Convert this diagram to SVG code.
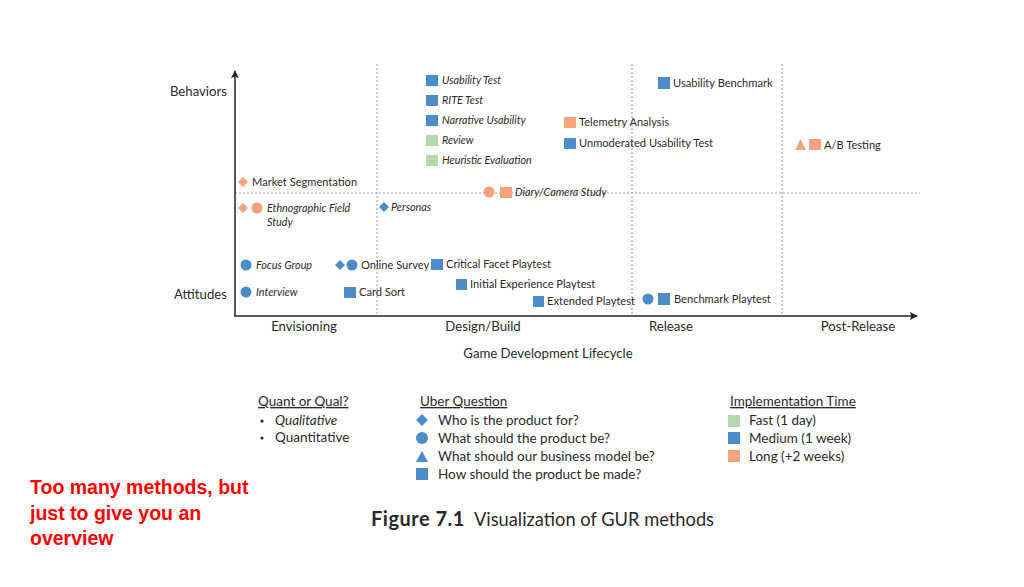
<svg xmlns="http://www.w3.org/2000/svg" width="1024" height="587" viewBox="0 0 1024 587">
<defs>
<style>
text{font-family:Lato,"Open Sans","Liberation Sans",sans-serif;fill:#2a2a2a}
.it{font-size:10.8px;font-style:italic}
.lb{font-size:11.1px}
.ax{font-size:13.2px}
.lg{font-size:13.5px}
.blue{fill:#4a8cc8}
.org{fill:#f6a27c}
.grn{fill:#b6d9ac}
.dot{stroke:#9a9a9a;stroke-width:1;stroke-dasharray:2,2;fill:none}
.red{font-family:"Liberation Sans",Arial,sans-serif;font-weight:bold;font-size:19.5px;fill:#ff0000}
</style>
<marker id="arr" viewBox="0 0 10 10" refX="9" refY="5" markerWidth="8" markerHeight="8" markerUnits="userSpaceOnUse" orient="auto"><path d="M0,0 L10,5 L0,10 L2,5 z" fill="#222"/></marker>
</defs>
<rect width="1024" height="587" fill="#fff"/>
<g id="grid">
<line class="dot" x1="377" y1="64" x2="377" y2="315"/>
<line class="dot" x1="632" y1="64" x2="632" y2="315"/>
<line class="dot" x1="782" y1="64" x2="782" y2="315"/>
<line class="dot" x1="235" y1="193" x2="920" y2="193"/>
</g>
<g id="connectors">
<line x1="235" y1="316" x2="235" y2="71" stroke="#222" stroke-width="1.5" marker-end="url(#arr)"/>
<line x1="234" y1="316" x2="917" y2="316" stroke="#222" stroke-width="1.5" marker-end="url(#arr)"/>
</g>
<g id="axis-labels">
<text class="ax" x="227" y="96" text-anchor="end">Behaviors</text>
<text class="ax" x="227" y="299" text-anchor="end">Attitudes</text>
<text class="ax" x="304" y="331" text-anchor="middle">Envisioning</text>
<text class="ax" x="483" y="331" text-anchor="middle">Design/Build</text>
<text class="ax" x="671" y="331" text-anchor="middle">Release</text>
<text class="ax" x="858" y="331" text-anchor="middle">Post-Release</text>
<text class="ax" x="548" y="358" text-anchor="middle">Game Development Lifecycle</text>
</g>
<g id="usability-test"><rect class="blue" x="426" y="75" width="12" height="11"/><text class="it" x="442" y="84">Usability Test</text></g>
<g id="rite-test"><rect class="blue" x="426" y="95" width="12" height="11"/><text class="it" x="442" y="104">RITE Test</text></g>
<g id="narrative-usability"><rect class="blue" x="426" y="115" width="12" height="11"/><text class="it" x="442" y="124">Narrative Usability</text></g>
<g id="review"><rect class="grn" x="426" y="135" width="12" height="11"/><text class="it" x="442" y="144">Review</text></g>
<g id="heuristic-evaluation"><rect class="grn" x="426" y="155" width="12" height="11"/><text class="it" x="442" y="164">Heuristic Evaluation</text></g>
<g id="telemetry-analysis"><rect class="org" x="564" y="117" width="12" height="11"/><text class="lb" x="579" y="126">Telemetry Analysis</text></g>
<g id="unmoderated-usability-test"><rect class="blue" x="564" y="138" width="12" height="11"/><text class="lb" x="579" y="147">Unmoderated Usability Test</text></g>
<g id="usability-benchmark"><rect class="blue" x="658" y="77" width="12" height="12"/><text class="lb" x="673" y="87">Usability Benchmark</text></g>
<g id="ab-testing"><polygon class="org" points="795,150 800.5,139 806,150"/><rect class="org" x="809" y="139" width="12" height="11"/><text class="lb" x="824" y="149">A/B Testing</text></g>
<g id="market-segmentation"><polygon class="org" points="243,177 248,182 243,187 238,182"/><text class="lb" x="252" y="186">Market Segmentation</text></g>
<g id="ethnographic-field-study"><polygon class="org" points="243,203 248,208 243,213 238,208"/><circle class="org" cx="257" cy="208" r="5.5"/><text class="it" x="267" y="212">Ethnographic Field</text><text class="it" x="267" y="226">Study</text></g>
<g id="personas"><polygon class="blue" points="384,202 389,207 384,212 379,207"/><text class="it" x="391" y="211">Personas</text></g>
<g id="diary-camera-study"><circle class="org" cx="489" cy="192" r="5.5"/><rect class="org" x="500" y="187" width="12" height="11"/><text class="it" x="515" y="196">Diary/Camera Study</text></g>
<g id="focus-group"><circle class="blue" cx="246" cy="265" r="5.5"/><text class="it" x="256" y="269">Focus Group</text></g>
<g id="online-survey"><polygon class="blue" points="340,260 345,265 340,270 335,265"/><circle class="blue" cx="352" cy="265" r="5.5"/><text class="lb" x="361" y="269">Online Survey</text></g>
<g id="critical-facet-playtest"><rect class="blue" x="431" y="259" width="12" height="11"/><text class="lb" x="446" y="268">Critical Facet Playtest</text></g>
<g id="interview"><circle class="blue" cx="246" cy="292" r="5.5"/><text class="it" x="256" y="296">Interview</text></g>
<g id="card-sort"><rect class="blue" x="344" y="287" width="12" height="11"/><text class="lb" x="359" y="296">Card Sort</text></g>
<g id="initial-experience-playtest"><rect class="blue" x="456" y="279" width="11" height="11"/><text class="lb" x="470" y="288">Initial Experience Playtest</text></g>
<g id="extended-playtest"><rect class="blue" x="533" y="296" width="11" height="11"/><text class="lb" x="547" y="305">Extended Playtest</text></g>
<g id="benchmark-playtest"><circle class="blue" cx="648" cy="299" r="5.5"/><rect class="blue" x="658" y="293" width="12" height="12"/><text class="lb" x="674" y="303">Benchmark Playtest</text></g>
<g id="legend-quant">
<text class="lg" x="258" y="406" text-decoration="underline">Quant or Qual?</text>
<circle cx="262" cy="421" r="1.6" fill="#222"/><text class="lg" x="275" y="425" font-style="italic">Qualitative</text>
<circle cx="262" cy="438" r="1.6" fill="#222"/><text class="lg" x="275" y="442">Quantitative</text>
</g>
<g id="legend-uber">
<text class="lg" x="420" y="406" text-decoration="underline">Uber Question</text>
<polygon class="blue" points="422,414 428,420 422,426 416,420"/><text class="lg" x="438" y="425">Who is the product for?</text>
<circle class="blue" cx="422" cy="438" r="6"/><text class="lg" x="438" y="443">What should the product be?</text>
<polygon class="blue" points="416,462 422,451 428,462"/><text class="lg" x="438" y="461">What should our business model be?</text>
<rect class="blue" x="416" y="468" width="12" height="12"/><text class="lg" x="438" y="479">How should the product be made?</text>
</g>
<g id="legend-time">
<text class="lg" x="730" y="406" text-decoration="underline">Implementation Time</text>
<rect class="grn" x="728" y="415" width="12" height="12"/><text class="lg" x="749" y="425">Fast (1 day)</text>
<rect class="blue" x="728" y="432" width="12" height="12"/><text class="lg" x="749" y="443">Medium (1 week)</text>
<rect class="org" x="728" y="450" width="12" height="12"/><text class="lg" x="749" y="461">Long (+2 weeks)</text>
</g>
<g id="note">
<text class="red" x="30" y="494">Too many methods, but</text>
<text class="red" x="30" y="520">just to give you an</text>
<text class="red" x="30" y="545">overview</text>
</g>
<g id="caption">
<text x="371" y="526" style="font-size:18.3px"><tspan font-weight="bold" font-size="20" letter-spacing="0.5">Figure 7.1</tspan><tspan dx="9">Visualization of GUR methods</tspan></text>
</g>
</svg>
